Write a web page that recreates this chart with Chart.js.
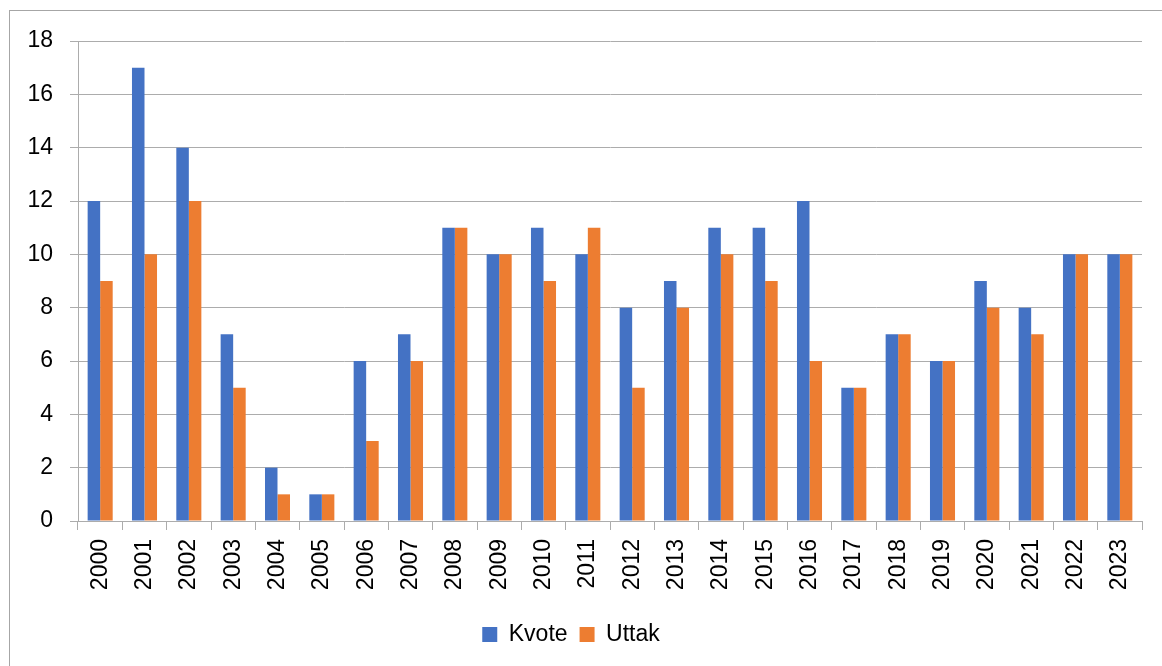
<!DOCTYPE html>
<html>
<head>
<meta charset="utf-8">
<script src="https://cdn.jsdelivr.net/npm/chart.js@4/dist/chart.umd.min.js"></script>
<style>
html,body{margin:0;padding:0;background:#fff;overflow:hidden;}
#wrap{position:absolute;left:0;top:0;width:1162px;height:666px;}
#frame{position:absolute;left:9px;top:10px;width:1200px;height:700px;border:1px solid #a6a6a6;box-sizing:border-box;}
canvas{position:absolute;left:0;top:0;}
</style>
</head>
<body>
<div id="wrap">
<div id="frame"></div>
<canvas id="c" width="1162" height="666"></canvas>
</div>
<script>
const categories = ["2000","2001","2002","2003","2004","2005","2006","2007","2008","2009","2010","2011","2012","2013","2014","2015","2016","2017","2018","2019","2020","2021","2022","2023"];
const kvote = [12,17,14,7,2,1,6,7,11,10,11,10,8,9,11,11,12,5,7,6,9,8,10,10];
const uttak = [9,10,12,5,1,1,3,6,11,10,9,11,5,8,10,9,6,5,7,6,8,7,10,10];
const yTicks = [0,2,4,6,8,10,12,14,16,18];

const FONT = "'Liberation Sans', 'DejaVu Sans', sans-serif";
const GRID = '#acacac';

new Chart(document.getElementById('c'), {
  type: 'bar',
  data: {
    labels: categories,
    datasets: [
      {label: 'Kvote', data: kvote, backgroundColor: '#4472C4', borderWidth: 0},
      {label: 'Uttak', data: uttak, backgroundColor: '#ED7D31', borderWidth: 0}
    ]
  },
  options: {
    responsive: false,
    animation: false,
    devicePixelRatio: 1,
    layout: {padding: {top: 41, right: 20, left: 0, bottom: 10}},
    datasets: {bar: {barPercentage: 1, categoryPercentage: 0.565}},
    plugins: {
      legend: {
        position: 'bottom',
        labels: {
          font: {family: FONT, size: 23},
          color: '#000',
          boxWidth: 15, boxHeight: 15,
          padding: 12
        }
      },
      tooltip: {enabled: false}
    },
    scales: {
      x: {
        grid: {drawOnChartArea: false, drawTicks: true, tickLength: 9, color: GRID, offset: true},
        border: {color: GRID, width: 1},
        ticks: {
          font: {family: FONT, size: 23}, color: '#000',
          minRotation: 90, maxRotation: 90, padding: 9, autoSkip: false
        },
        afterFit: (s) => { s.height = 90; }
      },
      y: {
        min: 0, max: 18,
        afterBuildTicks: (s) => { s.ticks = yTicks.map(v => ({value: v})); },
        grid: {color: GRID, tickLength: 8, drawTicks: true},
        border: {color: GRID, width: 1},
        ticks: {font: {family: FONT, size: 23}, color: '#000', padding: 17},
        afterFit: (s) => { s.width = 78; }
      }
    }
  }
});
</script>
</body>
</html>
